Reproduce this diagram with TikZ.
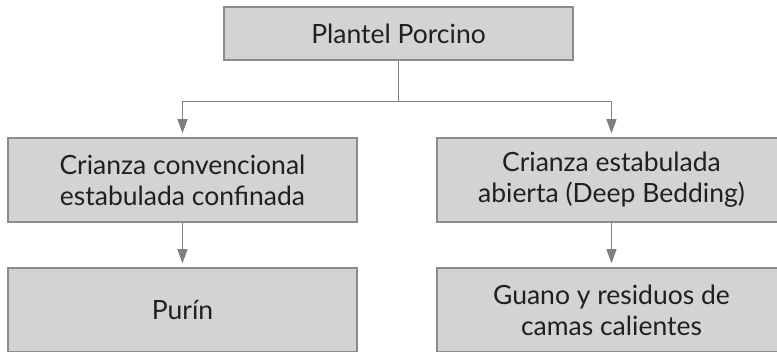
\documentclass[tikz,border=0pt]{standalone}
\usepackage{fontspec}
\setmainfont{Lato}
\usetikzlibrary{arrows.meta}
\definecolor{boxfill}{HTML}{D2D3D5}
\definecolor{boxline}{HTML}{8C8C8C}
\definecolor{linkgray}{HTML}{7F7F7F}
\definecolor{textgray}{HTML}{231F20}
\begin{document}
\begin{tikzpicture}[
        x=1pt, y=-1pt,
        box/.style={rectangle, draw=boxline, line width=1.5pt, fill=boxfill, text=textgray, align=center, minimum width=349pt, minimum height=84pt, inner sep=0pt, font=\fontsize{26.5}{31}\selectfont},
        link/.style={draw=linkgray, line width=1pt},
        flow/.style={link, -{Triangle[length=14pt,width=10pt]}, shorten >=4pt}
    ]
        \useasboundingbox (0,0) rectangle (777,352);

        % Top node
        \node[box, minimum height=53pt] (plantel) at (398.5,33.5) {Plantel Porcino};

        % Breeding systems
        \node[box] (convencional) at (182.5,180) {Crianza convencional\\estabulada confinada};
        \node[box] (abierta) at (611.5,180) {Crianza estabulada\\abierta (Deep Bedding)};

        % Residues
        \node[box] (purin) at (182.5,310) {Purín};
        \node[box] (guano) at (611.5,310) {Guano y residuos de\\camas calientes};

        % Connections
        \coordinate (split) at (398.5,102);
        \draw[link] (plantel) -- (split);
        \draw[flow] (split) -| (convencional);
        \draw[flow] (split) -| (abierta);
        \draw[flow] (convencional) -- (purin);
        \draw[flow] (abierta) -- (guano);

    \end{tikzpicture}
\end{document}
